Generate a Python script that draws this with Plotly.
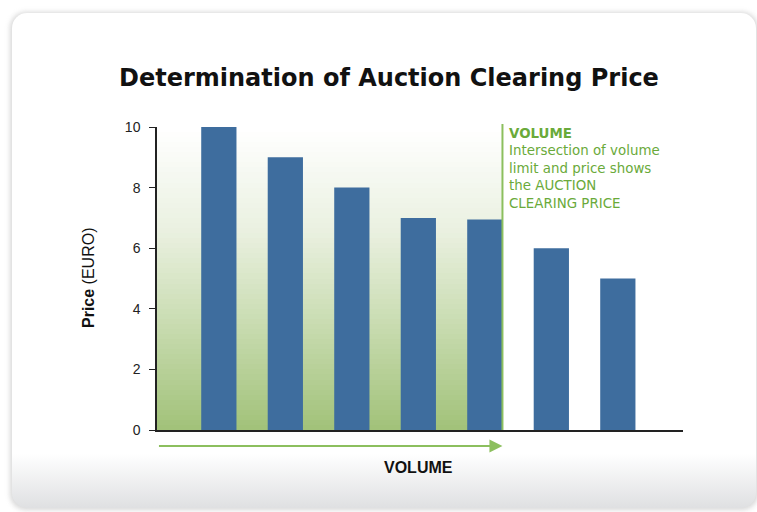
import base64
import numpy as np
import plotly.graph_objects as go

# ---- data ----
volume_steps = [1, 2, 3, 4, 5, 6, 7]
prices = [10, 9, 8, 7, 6.95, 6, 5]
y_ticks = [0, 2, 4, 6, 8, 10]
clearing_step = 5  # bar at which volume limit intersects price

W, H = 757, 512
L, R, T, B = 157, 74, 127, 82
PW, PH = W - L - R, H - T - B

def px(xp):
    return (xp - L) / PW

def py(yp):
    return (H - B - yp) / PH

BAR_W = 0.53
X_MIN, X_MAX = 0.07, 7.98
BAR_COLOR = "#3e6d9e"
GREEN_LINE = "#8cbf5e"
GREEN_TEXT = "#6aaa3a"

# card background as svg image
svg = f'''<svg xmlns="http://www.w3.org/2000/svg" width="{W}" height="{H}" viewBox="0 0 {W} {H}">
<defs>
<linearGradient id="g" x1="0" y1="0" x2="0" y2="1">
<stop offset="0" stop-color="#ffffff"/>
<stop offset="0.89" stop-color="#ffffff"/>
<stop offset="1" stop-color="#dfe0e2"/>
</linearGradient>
<filter id="s" x="-5%" y="-5%" width="110%" height="110%"><feGaussianBlur stdDeviation="2.5"/></filter>
</defs>
<rect x="0" y="0" width="{W}" height="{H}" fill="#ffffff"/>
<rect x="10" y="12" width="748" height="498" rx="16" ry="16" fill="#b8b8b8" opacity="0.55" filter="url(#s)"/>
<rect x="12" y="13" width="744" height="495" rx="15" ry="15" fill="url(#g)"/>
</svg>'''
svg_uri = "data:image/svg+xml;base64," + base64.b64encode(svg.encode()).decode()

fig = go.Figure()

# green gradient area up to the clearing volume
clear_x = clearing_step + BAR_W / 2
n = 60
y_edges = np.linspace(0, 10, n + 1)
z = [[i] for i in range(n)]
fig.add_trace(go.Heatmap(
    x=[X_MIN, clear_x], y=y_edges, z=z,
    colorscale=[[0, "#a2c27a"], [0.35, "#c9dcb1"], [0.65, "#e9f0df"], [1, "#ffffff"]],
    showscale=False, hoverinfo="skip",
))

fig.add_trace(go.Bar(
    x=volume_steps, y=prices, width=BAR_W,
    marker=dict(color=BAR_COLOR, line=dict(width=0)),
    showlegend=False,
))

fig.add_shape(type="line", xref="x", yref="paper", x0=clear_x, x1=clear_x,
              y0=0, y1=py(124), line=dict(color=GREEN_LINE, width=2))

annotations = [
    dict(text="<b>Determination of Auction Clearing Price</b>", xref="paper", yref="paper",
         x=px(389), y=py(78), showarrow=False, xanchor="center", yanchor="middle",
         font=dict(family="DejaVu Sans", size=24, color="#111111")),
    dict(text="<b>Price</b> (EURO)", xref="paper", yref="paper", x=px(88), y=py(278),
         textangle=-90, showarrow=False, xanchor="center", yanchor="middle",
         font=dict(family="Liberation Sans", size=16, color="#111111")),
    dict(text="<b>VOLUME</b>", xref="paper", yref="paper", x=px(418), y=py(467),
         showarrow=False, xanchor="center", yanchor="middle",
         font=dict(family="Liberation Sans", size=16, color="#111111")),
    dict(text="<b>VOLUME</b><br>Intersection of volume<br>limit and price shows<br>the AUCTION<br>CLEARING PRICE",
         xref="paper", yref="paper", x=px(507), y=py(124), showarrow=False,
         xanchor="left", yanchor="top", align="left",
         font=dict(family="DejaVu Sans", size=13.4, color=GREEN_TEXT)),
    dict(text="", xref="x", yref="paper", x=clear_x, y=py(446), ax=-(502 - 157), ay=0,
         showarrow=True, arrowhead=2, arrowsize=1.3, arrowwidth=2, arrowcolor=GREEN_LINE,
         standoff=0),
]

fig.update_layout(
    width=W, height=H,
    margin=dict(l=L, r=R, t=T, b=B),
    paper_bgcolor="white", plot_bgcolor="rgba(0,0,0,0)",
    showlegend=False,
    annotations=annotations,
    images=[dict(source=svg_uri, xref="paper", yref="paper", x=px(0), y=py(0),
                 sizex=W / PW, sizey=H / PH, sizing="stretch", xanchor="left",
                 yanchor="top", layer="below")],
    xaxis=dict(range=[X_MIN, X_MAX], showticklabels=False, ticks="", showgrid=False,
               zeroline=False, showline=True, linecolor="#222222", linewidth=1.5,
               fixedrange=True),
    yaxis=dict(range=[0, 10], tickvals=y_ticks, ticks="outside", ticklen=6,
               tickcolor="#222222", showgrid=False, zeroline=False, showline=True,
               linecolor="#222222", linewidth=1.5, ticklabelstandoff=6,
               tickfont=dict(family="Liberation Sans", size=14, color="#222222"),
               fixedrange=True),
)

fig.write_html("out.html", config={"displayModeBar": False},
               post_script="document.body.style.margin='0';")
